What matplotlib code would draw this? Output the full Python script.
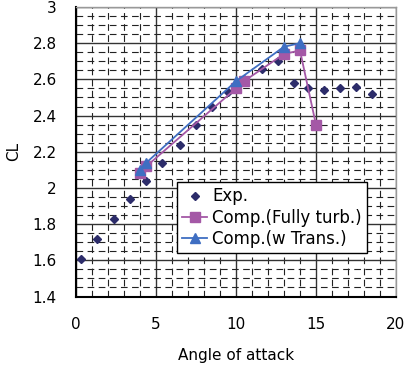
import matplotlib

matplotlib.use("Agg")
import matplotlib.pyplot as plt
from matplotlib.ticker import MultipleLocator

plt.rcParams["font.family"] = ["DejaVu Sans"]

# experiment
exp_aoa = [0.3, 1.3, 2.4, 3.4, 4.4, 5.4, 6.5, 7.5, 8.5, 9.5, 10.5, 11.6,
           12.6, 13.6, 14.5, 15.5, 16.5, 17.5, 18.5]
exp_cl = [1.61, 1.72, 1.83, 1.94, 2.04, 2.14, 2.24, 2.35, 2.45, 2.53, 2.60,
          2.66, 2.70, 2.58, 2.55, 2.54, 2.55, 2.56, 2.52]

# computation, fully turbulent
turb_aoa = [4.0, 4.4, 10.0, 10.5, 13.0, 14.0, 15.0]
turb_cl = [2.08, 2.12, 2.55, 2.59, 2.74, 2.76, 2.35]

# computation, with transition
trans_aoa = [4.0, 4.4, 10.0, 13.0, 14.0]
trans_cl = [2.10, 2.14, 2.59, 2.78, 2.80]

fig = plt.figure(figsize=(4.09, 3.67), dpi=100)
ax = fig.add_axes([0.186, 0.192, 0.782, 0.789])

ax.plot(exp_aoa, exp_cl, linestyle="none", marker="D", markersize=4.5,
        color="#2c2c6a", label="Exp.")
ax.plot(turb_aoa, turb_cl, marker="s", markersize=7, color="#a458a6",
        linewidth=1.3, label="Comp.(Fully turb.)")
ax.plot(trans_aoa, trans_cl, marker="^", markersize=7, color="#3f6ec2",
        linewidth=1.3, label="Comp.(w Trans.)")

ax.set_xlim(0, 20)
ax.set_ylim(1.4, 3.0)
ax.xaxis.set_major_locator(MultipleLocator(5))
ax.yaxis.set_major_locator(MultipleLocator(0.2))
ax.xaxis.set_minor_locator(MultipleLocator(1))
ax.yaxis.set_minor_locator(MultipleLocator(0.05))
ax.set_yticks([1.4, 1.6, 1.8, 2.0, 2.2, 2.4, 2.6, 2.8, 3.0])
ax.set_yticklabels(["1.4", "1.6", "1.8", "2", "2.2", "2.4", "2.6", "2.8", "3"])

ax.grid(which="major", color="#333333", linewidth=1.0)
ax.grid(which="minor", color="#222222", linewidth=0.8, linestyle=(0, (6, 4)))
ax.set_axisbelow(True)

ax.tick_params(which="both", length=0, labelsize=11)
ax.tick_params(axis="x", pad=15)
ax.tick_params(axis="y", pad=14)

for side in ["left", "bottom"]:
    ax.spines[side].set_color("black")
    ax.spines[side].set_linewidth(1.5)
for side in ["top", "right"]:
    ax.spines[side].set_color("#999999")
    ax.spines[side].set_linewidth(1.0)

ax.set_xlabel("Angle of attack", fontsize=11, labelpad=11)
ax.set_ylabel("CL", fontsize=11, labelpad=8)

leg = ax.legend(loc="upper left", bbox_to_anchor=(0.317, 0.394),
                borderaxespad=0, fancybox=False, framealpha=1,
                edgecolor="black", fontsize=12, handlelength=1.5,
                handletextpad=0.3, borderpad=0.3, labelspacing=0.2)
leg.get_frame().set_linewidth(1.0)

plt.savefig("out.png", dpi=100)
plt.close()
